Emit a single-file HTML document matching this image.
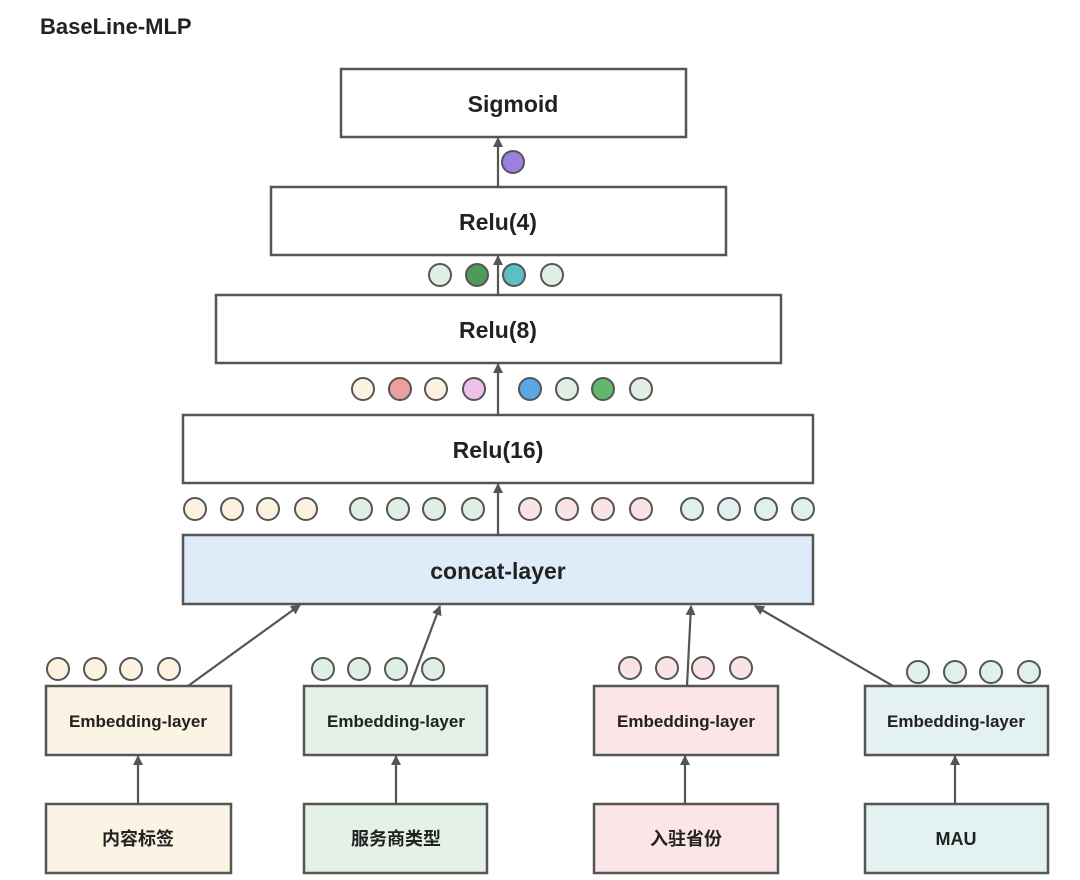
<!DOCTYPE html>
<html><head><meta charset="utf-8"><style>
html,body{margin:0;padding:0;background:#fff;}
svg{display:block;}
text{font-family:"Liberation Sans","Noto Sans CJK SC",sans-serif;font-weight:bold;fill:#222;}
</style></head><body>
<svg width="1080" height="880" viewBox="0 0 1080 880" xmlns="http://www.w3.org/2000/svg">
<defs>
<marker id="a" markerWidth="10" markerHeight="10" refX="9" refY="5" orient="auto" markerUnits="userSpaceOnUse">
<path d="M0,0 L10,5 L0,10 z" fill="#555"/>
</marker>
</defs>
<text x="40" y="34" font-size="22">BaseLine-MLP</text>
<g stroke="#555" stroke-width="2.5">
<rect x="341" y="69" width="345" height="68" fill="#fff"/>
<rect x="271" y="187" width="455" height="68" fill="#fff"/>
<rect x="216" y="295" width="565" height="68" fill="#fff"/>
<rect x="183" y="415" width="630" height="68" fill="#fff"/>
<rect x="183" y="535" width="630" height="69" fill="#deebf8"/>
<rect x="46" y="686" width="185" height="69" fill="#fbf3e3"/>
<rect x="304" y="686" width="183" height="69" fill="#e3f1e6"/>
<rect x="594" y="686" width="184" height="69" fill="#fbe5e6"/>
<rect x="865" y="686" width="183" height="69" fill="#e3f1f0"/>
<rect x="46" y="804" width="185" height="69" fill="#fbf3e3"/>
<rect x="304" y="804" width="183" height="69" fill="#e3f1e6"/>
<rect x="594" y="804" width="184" height="69" fill="#fbe5e6"/>
<rect x="865" y="804" width="183" height="69" fill="#e3f1f0"/>
</g>
<g stroke="#555" stroke-width="2.2" fill="none" marker-end="url(#a)">
<line x1="498" y1="535" x2="498" y2="484"/>
<line x1="498" y1="415" x2="498" y2="364"/>
<line x1="498" y1="295" x2="498" y2="256"/>
<line x1="498" y1="187" x2="498" y2="138"/>
<line x1="188" y1="686" x2="300" y2="605"/>
<line x1="410" y1="686" x2="440" y2="606"/>
<line x1="687" y1="686" x2="691" y2="606"/>
<line x1="893" y1="686" x2="755" y2="606"/>
<line x1="138" y1="804" x2="138" y2="756"/>
<line x1="396" y1="804" x2="396" y2="756"/>
<line x1="685" y1="804" x2="685" y2="756"/>
<line x1="955" y1="804" x2="955" y2="756"/>
</g>
<g stroke="#555" stroke-width="2">
<circle cx="513" cy="162" r="11" fill="#9c80e0"/>
<circle cx="440" cy="275" r="11" fill="#e0efe4"/>
<circle cx="477" cy="275" r="11" fill="#4e9a5c"/>
<circle cx="514" cy="275" r="11" fill="#5ebfc2"/>
<circle cx="552" cy="275" r="11" fill="#e0efe4"/>
<circle cx="363" cy="389" r="11" fill="#fbf3e0"/>
<circle cx="400" cy="389" r="11" fill="#e8a0a0"/>
<circle cx="436" cy="389" r="11" fill="#fbf3e0"/>
<circle cx="474" cy="389" r="11" fill="#eec0ea"/>
<circle cx="530" cy="389" r="11" fill="#5aa6e6"/>
<circle cx="567" cy="389" r="11" fill="#e0efe4"/>
<circle cx="603" cy="389" r="11" fill="#5fb86e"/>
<circle cx="641" cy="389" r="11" fill="#e0efe4"/>
</g>
<g stroke="#555" stroke-width="2">
<g fill="#fbf3e0"><circle cx="195" cy="509" r="11"/><circle cx="232" cy="509" r="11"/><circle cx="268" cy="509" r="11"/><circle cx="306" cy="509" r="11"/>
<circle cx="58" cy="669" r="11"/><circle cx="95" cy="669" r="11"/><circle cx="131" cy="669" r="11"/><circle cx="169" cy="669" r="11"/></g>
<g fill="#e0efe4"><circle cx="361" cy="509" r="11"/><circle cx="398" cy="509" r="11"/><circle cx="434" cy="509" r="11"/><circle cx="473" cy="509" r="11"/>
<circle cx="323" cy="669" r="11"/><circle cx="359" cy="669" r="11"/><circle cx="396" cy="669" r="11"/><circle cx="433" cy="669" r="11"/></g>
<g fill="#fae3e4"><circle cx="530" cy="509" r="11"/><circle cx="567" cy="509" r="11"/><circle cx="603" cy="509" r="11"/><circle cx="641" cy="509" r="11"/>
<circle cx="630" cy="668" r="11"/><circle cx="667" cy="668" r="11"/><circle cx="703" cy="668" r="11"/><circle cx="741" cy="668" r="11"/></g>
<g fill="#e0f0ee"><circle cx="692" cy="509" r="11"/><circle cx="729" cy="509" r="11"/><circle cx="766" cy="509" r="11"/><circle cx="803" cy="509" r="11"/>
<circle cx="918" cy="672" r="11"/><circle cx="955" cy="672" r="11"/><circle cx="991" cy="672" r="11"/><circle cx="1029" cy="672" r="11"/></g>
</g>
<g text-anchor="middle">
<text x="513" y="112" font-size="23">Sigmoid</text>
<text x="498" y="230" font-size="23">Relu(4)</text>
<text x="498" y="338" font-size="23">Relu(8)</text>
<text x="498" y="458" font-size="23">Relu(16)</text>
<text x="498" y="579" font-size="23">concat-layer</text>
<text x="138" y="727" font-size="17">Embedding-layer</text>
<text x="396" y="727" font-size="17">Embedding-layer</text>
<text x="686" y="727" font-size="17">Embedding-layer</text>
<text x="956" y="727" font-size="17">Embedding-layer</text>
<text x="138" y="845" font-size="18" font-weight="normal">内容标签</text>
<text x="396" y="845" font-size="18" font-weight="normal">服务商类型</text>
<text x="686" y="845" font-size="18" font-weight="normal">入驻省份</text>
<text x="956" y="845" font-size="18">MAU</text>
</g>
</svg>
</body></html>
